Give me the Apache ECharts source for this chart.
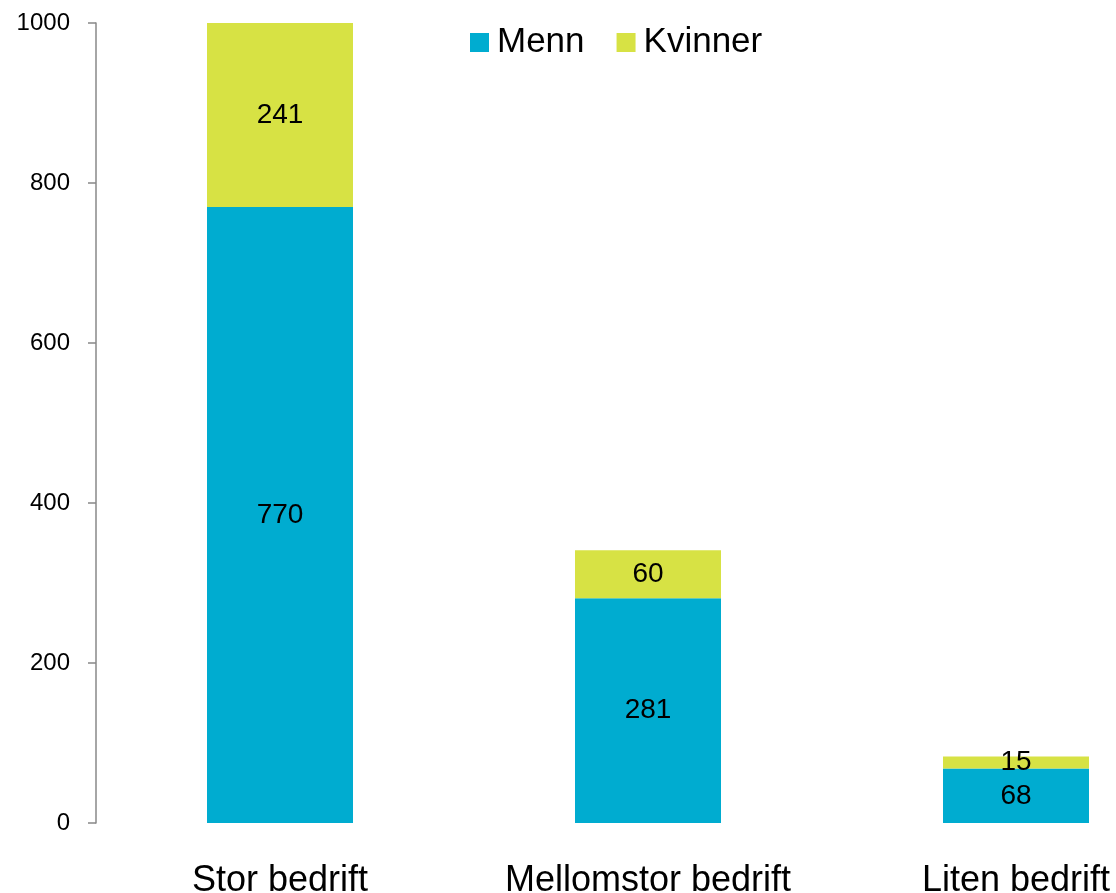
<!DOCTYPE html>
<html>
<head>
<meta charset="utf-8">
<script src="https://cdn.jsdelivr.net/npm/echarts@6/dist/echarts.min.js"></script>
<style>
  html, body { margin: 0; padding: 0; background: #fff; }
  #chart { width: 1116px; height: 893px; }
</style>
</head>
<body>
<div id="chart"></div>
<script>
var categories = ['Stor bedrift', 'Mellomstor bedrift', 'Liten bedrift'];
var menn = [770, 281, 68];
var kvinner = [241, 60, 15];
var seriesNames = ['Menn', 'Kvinner'];

var font = '"Liberation Sans", Arial, sans-serif';
var chart = echarts.init(document.getElementById('chart'));

// the plot area runs past the right edge of the picture (last bar is cut at the border)
var option = {
  animation: false,
  textStyle: { fontFamily: font },
  legend: {
    data: seriesNames,
    left: 465,
    top: 20,
    icon: 'rect',
    itemWidth: 19,
    itemHeight: 19,
    itemGap: 32,
    textStyle: { fontSize: 35, color: '#000', fontFamily: font, padding: [0, 0, 0, 3] }
  },
  grid: { left: 96, top: 23, width: 1104, height: 800, outerBoundsMode: 'none', containLabel: false },
  xAxis: {
    type: 'category',
    data: categories,
    axisLine: { show: false },
    axisTick: { show: false },
    axisLabel: { fontSize: 36, color: '#000', margin: 40, fontFamily: font, interval: 0 }
  },
  yAxis: {
    type: 'value',
    min: 0,
    max: 1000,
    interval: 200,
    splitLine: { show: false },
    axisLine: { show: true, lineStyle: { color: '#888', width: 1.5 } },
    axisTick: { show: true, length: 8, lineStyle: { color: '#888', width: 1.5 } },
    axisLabel: { fontSize: 24, color: '#000', margin: 26, fontFamily: font,
      formatter: function (v) { return String(v); } }
  },
  series: [
    {
      name: seriesNames[0],
      type: 'bar',
      stack: 'total',
      barWidth: 146,
      data: menn,
      itemStyle: { color: '#00acd0' },
      label: { show: true, position: 'inside', fontSize: 28, color: '#000', fontFamily: font }
    },
    {
      name: seriesNames[1],
      type: 'bar',
      stack: 'total',
      barWidth: 146,
      data: kvinner,
      itemStyle: { color: '#d7e244' },
      label: { show: true, position: 'inside', fontSize: 28, color: '#000', fontFamily: font }
    }
  ]
};

chart.setOption(option);
</script>
</body>
</html>
